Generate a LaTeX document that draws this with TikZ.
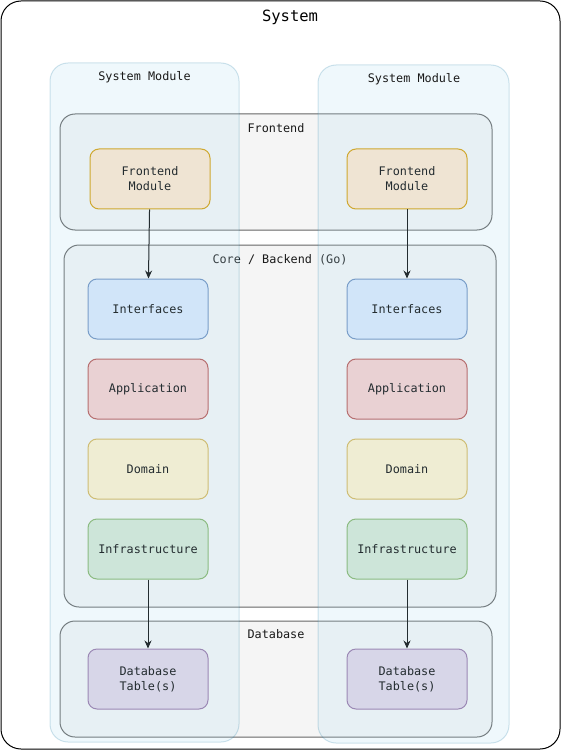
\documentclass[tikz,border=0pt]{standalone}
\usepackage{fontspec}
\setmainfont{DejaVu Sans Mono}
\usetikzlibrary{arrows.meta}
\usepackage{xcolor}

\definecolor{modFill}{HTML}{B1DDF0}
\definecolor{modLine}{HTML}{10739E}
\definecolor{grpFill}{HTML}{F5F5F5}
\definecolor{grpLine}{HTML}{666666}
\definecolor{feFill}{HTML}{FFE6CC}
\definecolor{feLine}{HTML}{D79B00}
\definecolor{ifFill}{HTML}{DAE8FC}
\definecolor{ifLine}{HTML}{6C8EBF}
\definecolor{apFill}{HTML}{F8CECC}
\definecolor{apLine}{HTML}{B85450}
\definecolor{doFill}{HTML}{FFF2CC}
\definecolor{doLine}{HTML}{D6B656}
\definecolor{inFill}{HTML}{D5E8D4}
\definecolor{inLine}{HTML}{82B366}
\definecolor{dbFill}{HTML}{E1D5E7}
\definecolor{dbLine}{HTML}{9673A6}

\begin{document}
\begin{tikzpicture}[x=1pt, y=-1pt,
    box/.style={rounded corners=9pt, minimum width=120pt, minimum height=60pt, line width=1pt,
        align=center, text=black, font=\fontsize{11.8}{15}\selectfont},
    group/.style={draw=grpLine, fill=grpFill, line width=1pt, rounded corners=15pt},
    module/.style={draw=modLine, fill=modFill, opacity=0.2, line width=1pt, rounded corners=18pt},
    grouptitle/.style={text=black!90, font=\fontsize{11.8}{14}\selectfont},
    flow/.style={line width=1pt, -{Stealth[length=8pt, width=7pt]}}]
    \useasboundingbox (0,0) rectangle (562,751);

    % outer frame
    \draw [line width=1pt, rounded corners=20pt] (1,1) rectangle (560,749);
    \node (systitle) at (290,17) {\fontsize{15.5}{18}\selectfont System};

    % layers
    \draw [group] (60,114) rectangle (492,230);
    \node [grouptitle] (fetitle) at (276,128) {Frontend};
    \draw [group] (64,245) rectangle (496,607);
    \node [grouptitle] (coretitle) at (280,260) {Core / Backend (Go)};
    \draw [group] (60,621) rectangle (492,737);
    \node [grouptitle] (dbtitle) at (276,634) {Database};

    % left column
    \node [box, fill=feFill, draw=feLine] (feL) at (150,179) {Frontend\\Module};
    \node [box, fill=ifFill, draw=ifLine] (ifL) at (148,309) {Interfaces};
    \node [box, fill=apFill, draw=apLine] (apL) at (148,389) {Application};
    \node [box, fill=doFill, draw=doLine] (doL) at (148,469) {Domain};
    \node [box, fill=inFill, draw=inLine] (inL) at (148,549) {Infrastructure};
    \node [box, fill=dbFill, draw=dbLine] (dbL) at (148,679) {Database\\Table(s)};

    % right column
    \node [box, fill=feFill, draw=feLine] (feR) at (407,179) {Frontend\\Module};
    \node [box, fill=ifFill, draw=ifLine] (ifR) at (407,309) {Interfaces};
    \node [box, fill=apFill, draw=apLine] (apR) at (407,389) {Application};
    \node [box, fill=doFill, draw=doLine] (doR) at (407,469) {Domain};
    \node [box, fill=inFill, draw=inLine] (inR) at (407,549) {Infrastructure};
    \node [box, fill=dbFill, draw=dbLine] (dbR) at (407,679) {Database\\Table(s)};

    \draw [flow] (feL) -- (ifL);
    \draw [flow] (inL) -- (dbL);
    \draw [flow] (feR) -- (ifR);
    \draw [flow] (inR) -- (dbR);

    % modules on top
    \draw [module] (50,63) rectangle (239,742);
    \draw [module] (318,65) rectangle (509,743);
    \node [grouptitle] (modtitleL) at (144.5,77) {System Module};
    \node [grouptitle] (modtitleR) at (414,79) {System Module};
\end{tikzpicture}
\end{document}
